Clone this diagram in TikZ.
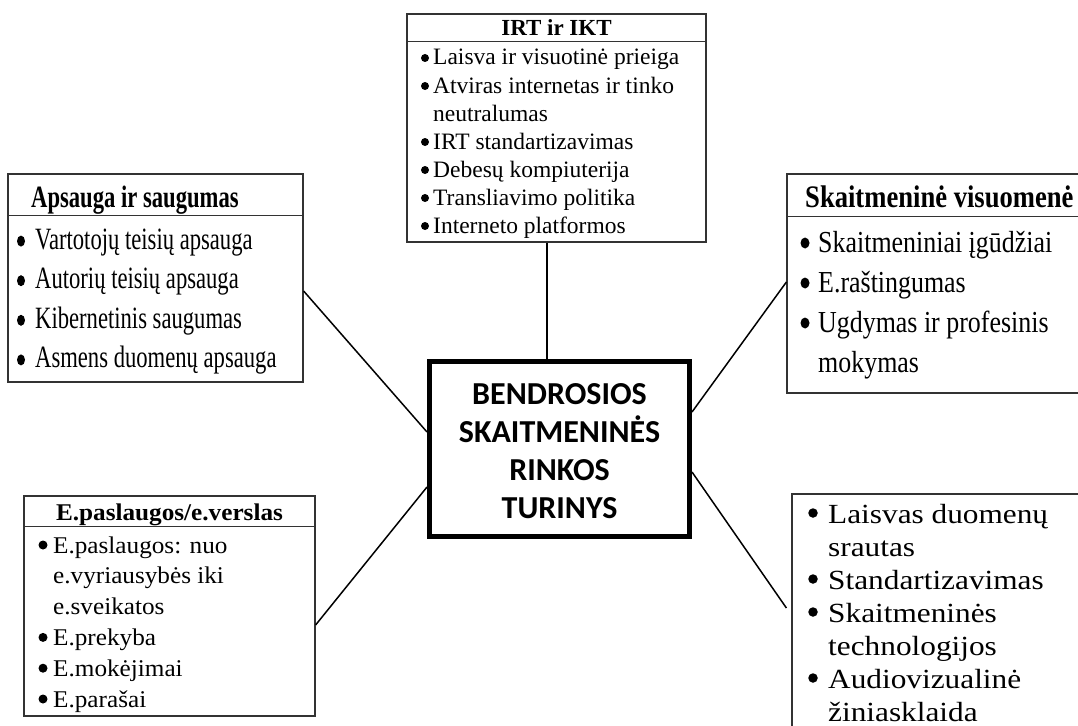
\documentclass[tikz,border=0pt]{standalone}
\usepackage{fontspec}
\setmainfont{Liberation Serif}
\newfontfamily\apsfam[FakeStretch=0.73]{Liberation Serif}
\newfontfamily\visfam[FakeStretch=0.85]{Liberation Serif}
\newfontfamily\epfam[FakeStretch=1.05]{Liberation Serif}
\newfontfamily\duomfam[FakeStretch=1.13]{Liberation Serif}
\newfontfamily\calfam{Carlito}
\usetikzlibrary{shapes.geometric}

\begin{document}
\begin{tikzpicture}[x=1pt, y=-1pt,
    box/.style={draw=black!80, line width=1.2pt, rectangle, inner sep=0},
    rule/.style={draw=black!80, line width=1.2pt},
    link/.style={line width=1.5pt},
    item/.style={anchor=base west, inner sep=0},
    bulletpt/.style={ellipse, fill=black, inner sep=0, minimum width=8pt, minimum height=8pt}]
    \clip (0,0) rectangle (1078,725);

    % Centre box
    \node[draw, line width=5pt, minimum width=260pt, minimum height=175pt] (turinys) at (559.5,449) {};
    \foreach \txt [count=\i] in {BENDROSIOS, SKAITMENINĖS, RINKOS, TURINYS} {
        \node[anchor=base, inner sep=0, font=\calfam\bfseries\fontsize{32}{38}\selectfont] (tur-\i) at (559.5,365.7+38.3*\i) {\txt};
    }

    % IRT ir IKT
    \node[box, minimum width=299pt, minimum height=228pt] (irt) at (556.5,128) {};
    \draw[rule] ([yshift=-28pt]irt.north west) -- ([yshift=-28pt]irt.north east);
    \node[anchor=base, inner sep=0, font=\bfseries\fontsize{23}{28}\selectfont] (irt-h) at (556.5,36) {IRT ir IKT};
    \foreach \txt/\bul [count=\i] in {Laisva ir visuotinė prieiga/1, Atviras internetas ir tinko/1,
        neutralumas/0, IRT standartizavimas/1, Debesų kompiuterija/1, Transliavimo politika/1,
        Interneto platformos/1} {
        \node[item, font=\fontsize{23.5}{28}\selectfont] (irt-\i) at (433,37+28*\i) {\txt};
        \ifnum\bul=1
            \node[bulletpt] (irt-b\i) at (425,30+28*\i) {};
        \fi
    }

    % Apsauga ir saugumas
    \node[box, minimum width=295pt, minimum height=208pt] (aps) at (155.5,278) {};
    \draw[rule] ([yshift=-42pt]aps.north west) -- ([yshift=-42pt]aps.north east);
    \node[item, font=\apsfam\bfseries\fontsize{31}{40}\selectfont] (aps-h) at (31,207) {Apsauga ir saugumas};
    \foreach \txt [count=\i] in {Vartotojų teisių apsauga, Autorių teisių apsauga,
        Kibernetinis saugumas, Asmens duomenų apsauga} {
        \node[item, font=\apsfam\fontsize{31}{40}\selectfont] (aps-\i) at (35,209.5+39.6*\i) {\txt};
        \node[bulletpt, minimum width=8pt, minimum height=11pt] (aps-b\i) at (21,201.5+39.6*\i) {};
    }

    % Skaitmenine visuomene
    \node[box, minimum width=313pt, minimum height=219pt] (vis) at (943.5,283.5) {};
    \draw[rule] ([yshift=-43pt]vis.north west) -- ([yshift=-43pt]vis.north east);
    \node[item, font=\visfam\bfseries\fontsize{31.3}{40}\selectfont] (vis-h) at (805,207) {Skaitmeninė visuomenė};
    \foreach \txt/\bul [count=\i] in {Skaitmeniniai įgūdžiai/1, E.raštingumas/1,
        Ugdymas ir profesinis/1, mokymas/0} {
        \node[item, font=\visfam\fontsize{30.5}{40}\selectfont] (vis-\i) at (818,212+40*\i) {\txt};
        \ifnum\bul=1
            \node[bulletpt, minimum width=9pt, minimum height=11pt] (vis-b\i) at (805,203+40*\i) {};
        \fi
    }

    % E.paslaugos/e.verslas
    \node[box, minimum width=291pt, minimum height=220pt] (ep) at (169.5,606) {};
    \draw[rule] ([yshift=-31pt]ep.north west) -- ([yshift=-31pt]ep.north east);
    \node[anchor=base, inner sep=0, font=\epfam\bfseries\fontsize{24}{30}\selectfont] (ep-h) at (169.5,520) {E.paslaugos/e.verslas};
    \foreach \txt/\bul [count=\i] in {E.paslaugos: nuo/1, e.vyriausybės iki/0, e.sveikatos/0,
        E.prekyba/1, E.mokėjimai/1, E.parašai/1} {
        \node[item, font=\epfam\fontsize{24}{30}\selectfont] (ep-\i) at (53,522.2+30.8*\i) {\txt};
        \ifnum\bul=1
            \node[bulletpt, minimum size=9pt] (ep-b\i) at (43,514.2+30.8*\i) {};
        \fi
    }

    % Duomenys ir technologijos
    \node[box, minimum width=308pt, minimum height=266pt] (duom) at (946,627) {};
    \foreach \txt/\bul [count=\i] in {Laisvas duomenų/1, srautas/0, Standartizavimas/1,
        Skaitmeninės/1, technologijos/0, Audiovizualinė/1, žiniasklaida/0} {
        \node[item, font=\duomfam\fontsize{27.7}{33}\selectfont] (duom-\i) at (828,490+33*\i) {\txt};
        \ifnum\bul=1
            \node[bulletpt, minimum size=9.5pt] (duom-b\i) at (813,480+33*\i) {};
        \fi
    }

    % Links
    \draw[link] ([xshift=-9.5pt]irt.south) -- ([xshift=-12.5pt]turinys.north);
    \draw[link] ([yshift=-13pt]aps.east) -- ([yshift=17pt]turinys.west);
    \draw[link] ([yshift=37pt]turinys.east) -- ([yshift=1.5pt]vis.west);
    \draw[link] ([yshift=-19pt]ep.east) -- ([yshift=-38pt]turinys.west);
    \draw[link] ([yshift=-23pt]turinys.east) -- ([xshift=-5pt,yshift=19pt]duom.west);
\end{tikzpicture}
\end{document}
